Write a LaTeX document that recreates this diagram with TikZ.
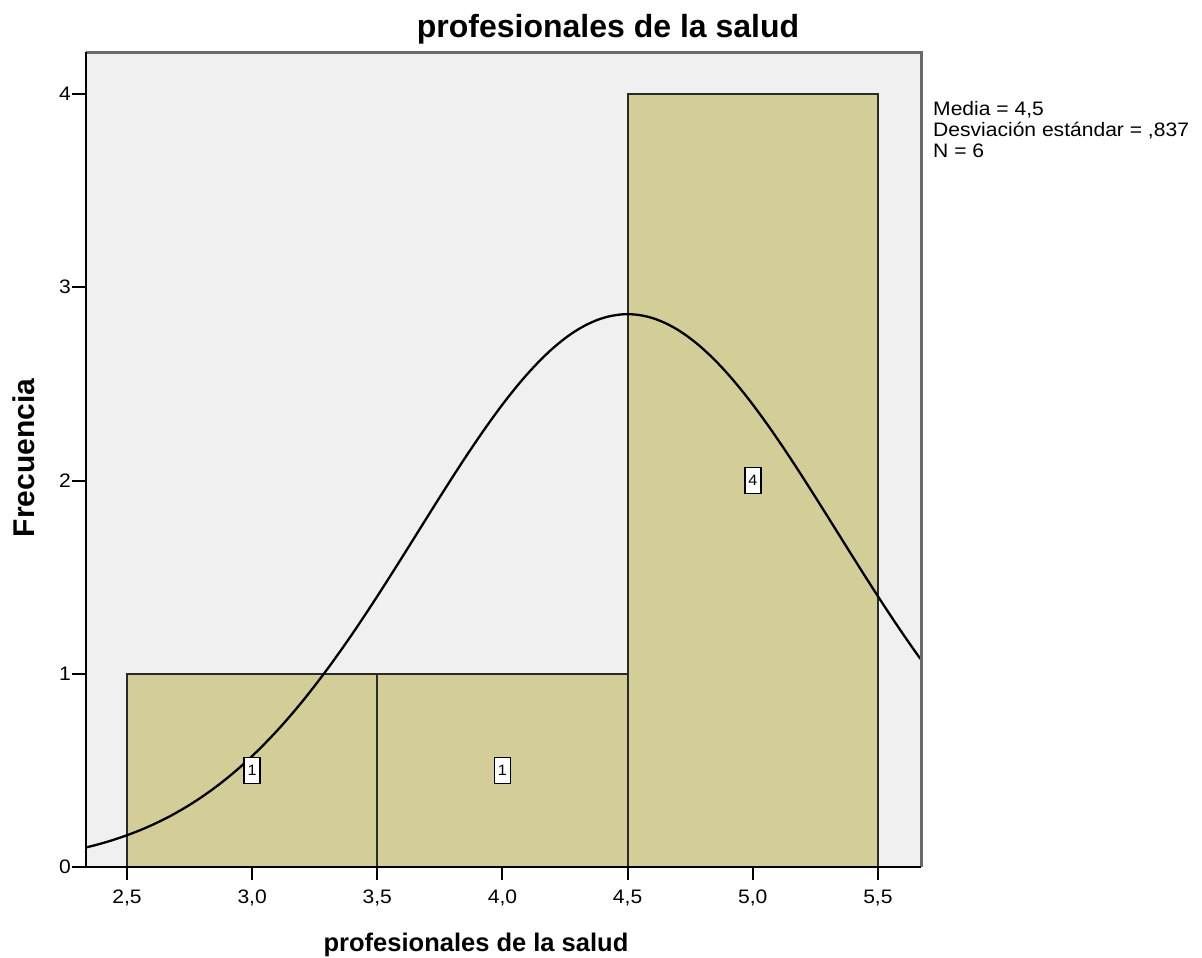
\documentclass[tikz,border=0pt]{standalone}
\usepackage{fontspec}
\setmainfont{Liberation Sans}
\newfontfamily\statfont[FakeStretch=1.08]{Liberation Sans}
\definecolor{plotbg}{HTML}{F0F0F0}
\definecolor{barfill}{HTML}{D3CE98}
\definecolor{baredge}{HTML}{2A2A2A}
\definecolor{frameshade}{HTML}{6A6A6A}
\tikzset{
  barbox/.style={fill=barfill, draw=baredge, line width=2pt},
  normcurve/.style={draw=black, line width=2.3pt},
  vallabel/.style={draw=black, fill=white, line width=1.6pt, inner sep=0pt,
    minimum width=16pt, minimum height=26pt, font=\statfont\fontsize{15}{16}\selectfont},
  ticklab/.style={inner sep=0pt, font=\statfont\fontsize{19.5}{21}\selectfont},
  tickline/.style={draw=black, line width=2pt},
  legendtxt/.style={inner sep=0pt, anchor=base west, font=\statfont\fontsize{19.5}{21}\selectfont},
}
\begin{document}
\begin{tikzpicture}[x=1pt, y=-1pt]
\useasboundingbox (0,0) rectangle (1202,958);
% plot area
\fill[plotbg] (86,53) rectangle (921,867);
\begin{scope}[shift={(127,867)}, x=250.3pt, y=193.25pt]
  \path[barbox] (0,0) rectangle (1,1);
  \path[barbox] (1,0) rectangle (2,1);
  \path[barbox] (2,0) rectangle (3,4);
  \draw[normcurve] plot[domain=-0.164:3.172, samples=200, smooth]
    (\x, {2.8598*exp(-((\x-2)^2)/1.401138)});
  \node[vallabel] (c1) at (0.5,0.5) {1};
  \node[vallabel] (c2) at (1.5,0.5) {1};
  \node[vallabel] (c3) at (2.5,2) {4};
\end{scope}
% frame
\draw[frameshade, line width=3pt] (86,53) -- (921,53) -- (921,867);
\draw[black, line width=2pt] (86,52) -- (86,867) -- (921,867);
% y ticks
\foreach \f in {0,1,2,3,4} {
  \coordinate (yt\f) at (86,{867-193.25*\f});
  \coordinate (ys\f) at (72,{867-193.25*\f});
  \draw[tickline] (ys\f) -- (yt\f);
  \node[ticklab, anchor=east] (ylab\f) at (71,{867-193.25*\f}) {\f};
}
% x ticks
\foreach \v/\t [count=\k] in {0/{2,5},0.5/{3,0},1/{3,5},1.5/{4,0},2/{4,5},2.5/{5,0},3/{5,5}} {
  \coordinate (xt\k) at ({127+250.3*\v},867);
  \coordinate (xs\k) at ({127+250.3*\v},880);
  \draw[tickline] (xt\k) -- (xs\k);
  \node[ticklab, anchor=base] (xlab\k) at ({127+250.3*\v},903) {\t};
}
% titles
\node[inner sep=0pt, anchor=base, font=\bfseries\fontsize{32}{38}\selectfont] (title) at (608,38) {profesionales de la salud};
\node[inner sep=0pt, anchor=base, font=\bfseries\fontsize{25.5}{30}\selectfont] (xtitle) at (476,951) {profesionales de la salud};
\node[inner sep=0pt, rotate=90, font=\bfseries\fontsize{30}{34}\selectfont] (ytitle) at (24,458) {Frecuencia};
% legend
\node[legendtxt] (leg1) at (933,115) {Media = 4,5};
\node[legendtxt] (leg2) at (933,136) {Desviación estándar = ,837};
\node[legendtxt] (leg3) at (933,157) {N = 6};
\end{tikzpicture}
\end{document}
